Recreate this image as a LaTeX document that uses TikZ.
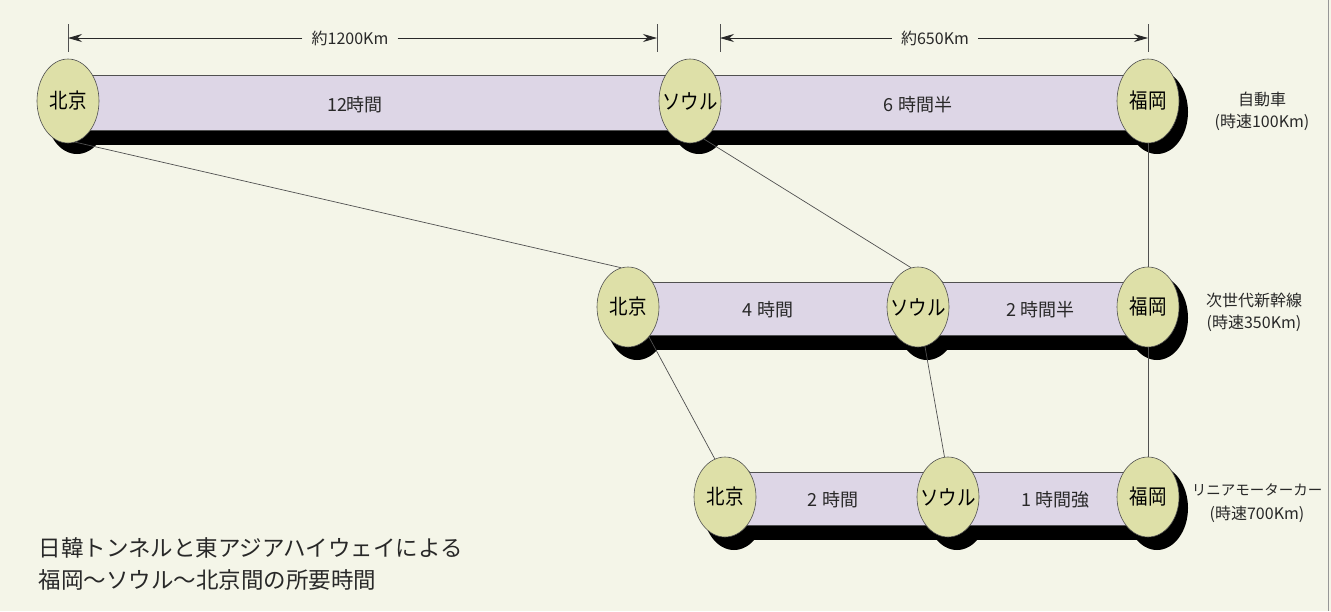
\documentclass[tikz,border=0pt]{standalone}
\usepackage{fontspec}
\setmainfont{Noto Sans CJK JP}
\newfontfamily\jp{Noto Sans CJK JP}
\usetikzlibrary{shapes.geometric,arrows.meta,calc}
\definecolor{bgc}{RGB}{244,245,232}
\definecolor{barc}{RGB}{221,214,230}
\definecolor{cityc}{RGB}{222,224,168}
\definecolor{linec}{RGB}{80,80,80}
\definecolor{txtc}{RGB}{40,40,40}
\newcommand{\citytext}[1]{\makebox[0pt]{\scalebox{0.88}[1]{#1}}}
\tikzset{
  city/.style={ellipse, draw=linec, line width=0.6pt, fill=cityc, minimum width=62pt, minimum height=84pt, inner sep=0pt, font=\jp\fontsize{21}{22}\selectfont, text=black},
  shadowell/.style={fill=black},
  barbox/.style={fill=barc, draw=linec, line width=0.6pt},
  bandbox/.style={fill=black},
  link/.style={draw=linec, line width=0.7pt},
  bartext/.style={font=\jp\fontsize{18}{20}\selectfont, text=txtc},
  rowlabel/.style={font=\jp\fontsize{16}{22}\selectfont, text=txtc, align=center},
  dimtext/.style={font=\jp\fontsize{16}{18}\selectfont, text=txtc, inner sep=9pt},
  dimarrow/.style={draw=txtc, line width=0.8pt, -{Stealth[length=14pt,width=8pt]}},
  tick/.style={draw=linec, line width=0.6pt},
}
\begin{document}
\begin{tikzpicture}[x=1pt,y=-1pt]
\fill[bgc] (0,0) rectangle (1331,611);
\useasboundingbox (0,0) rectangle (1331,611);
\draw[linec!60, line width=0.8pt] (1328,0) -- (1328,611);
% positions
\coordinate (pB1) at (68,101);
\coordinate (pS1) at (690,101);
\coordinate (pF1) at (1148,101);
\coordinate (pB2) at (628,307);
\coordinate (pS2) at (918,307);
\coordinate (pF2) at (1148,307);
\coordinate (pB3) at (725,497);
\coordinate (pS3) at (948,497);
\coordinate (pF3) at (1148,497);
% shadows of ellipses
\foreach \p in {pB1,pS1,pF1,pB2,pS2,pF2,pB3,pS3,pF3}{
  \fill[shadowell] ($(\p)+(9,11)$) ellipse [x radius=31, y radius=42];
}
% black bands
\fill[bandbox] ($(pB1)+(10,24)$) rectangle ($(pF1)+(10,44)$);
\fill[bandbox] ($(pB2)+(10,24)$) rectangle ($(pF2)+(10,43)$);
\fill[bandbox] ($(pB3)+(10,24)$) rectangle ($(pF3)+(10,43)$);
% lavender bars
\filldraw[barbox] ($(pB1)+(0,-26)$) rectangle ($(pF1)+(0,29)$);
\filldraw[barbox] ($(pB2)+(0,-25)$) rectangle ($(pF2)+(0,28)$);
\filldraw[barbox] ($(pB3)+(0,-25)$) rectangle ($(pF3)+(0,28)$);
% cities
\node[city] (b1) at (pB1) {\citytext{北京}};
\node[city] (s1) at (pS1) {\citytext{ソウル}};
\node[city] (f1) at (pF1) {\citytext{福岡}};
\node[city, minimum height=80pt] (b2) at (pB2) {\citytext{北京}};
\node[city, minimum height=80pt] (s2) at (pS2) {\citytext{ソウル}};
\node[city, minimum height=80pt] (f2) at (pF2) {\citytext{福岡}};
\node[city, minimum height=80pt] (b3) at (pB3) {\citytext{北京}};
\node[city, minimum height=80pt] (s3) at (pS3) {\citytext{ソウル}};
\node[city, minimum height=80pt] (f3) at (pF3) {\citytext{福岡}};
% bar texts
\node[bartext] (t1) at (355,105) {12時間};
\node[bartext] (t2) at (918,105) {6 時間半};
\node[bartext] (t3) at (768,310) {4 時間};
\node[bartext] (t4) at (1040,310) {2 時間半};
\node[bartext] (t5) at (833,500) {2 時間};
\node[bartext] (t6) at (1055,500) {1 時間強};
% connecting lines
\draw[link] (b1.-80) -- (b2.100);
\draw[link] (s1.-70) -- (s2.100);
\draw[link] (f1.south) -- (f2.north);
\draw[link] (b2.-55) -- (b3.105);
\draw[link] (s2.-80) -- (s3.95);
\draw[link] (f2.south) -- (f3.north);
% row labels
\node[rowlabel] (r1) at (1262,111) {自動車\\(時速100Km)};
\node[rowlabel] (r2) at (1254,312) {次世代新幹線\\(時速350Km)};
\node[rowlabel, font=\jp\fontsize{14.5}{24}\selectfont] (r3) at (1257,503) {リニアモーターカー\\{\fontsize{16}{22}\selectfont(時速700Km)}};
% dimension lines
\coordinate (da1) at (68,38);
\coordinate (db1) at (657,38);
\coordinate (da2) at (720,38);
\coordinate (db2) at (1148,38);
\draw[tick] (68,24) -- (68,52);
\draw[tick] (657,24) -- (657,52);
\draw[tick] (720,24) -- (720,52);
\draw[tick] (1148,24) -- (1148,52);
\node[dimtext] (d1) at (350,38) {約1200Km};
\node[dimtext] (d2) at (935,38) {約650Km};
\draw[dimarrow] (d1.west) -- (da1);
\draw[dimarrow] (d1.east) -- (db1);
\draw[dimarrow] (d2.west) -- (da2);
\draw[dimarrow] (d2.east) -- (db2);
% title
\node[anchor=west, font=\jp\fontsize{22.5}{32}\selectfont, text=txtc, align=left] (title) at (35,564) {日韓トンネルと東アジアハイウェイによる\\福岡〜ソウル〜北京間の所要時間};
\end{tikzpicture}
\end{document}
